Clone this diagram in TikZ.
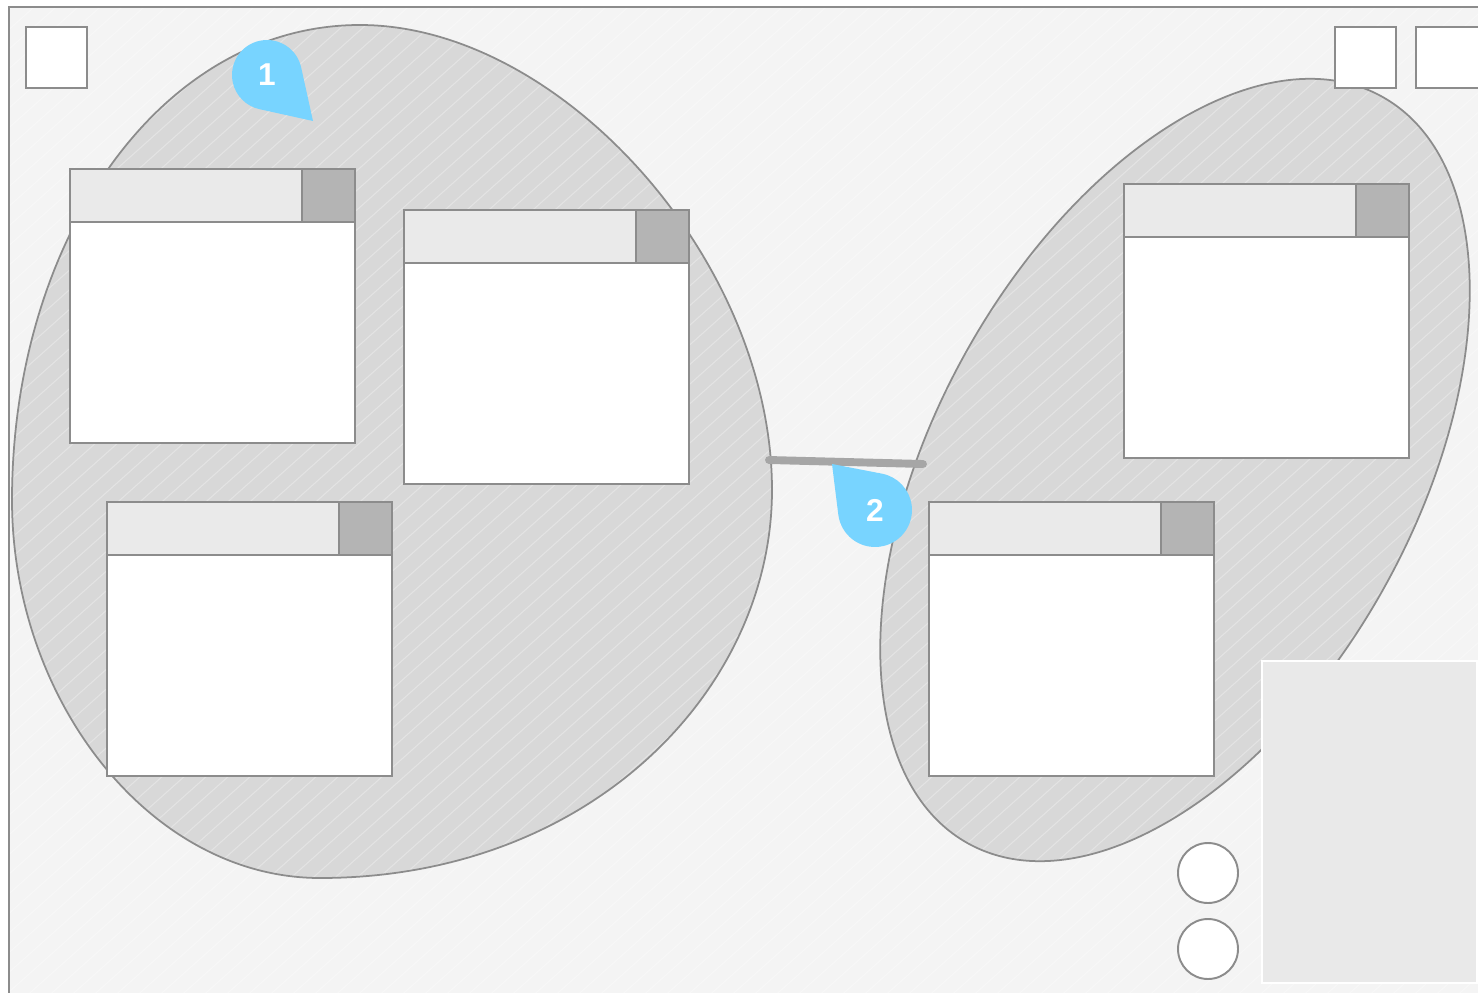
\documentclass[tikz,border=0pt]{standalone}
\usepackage{fontspec}
\setsansfont{Liberation Sans}
\usepackage{tikz}
\usetikzlibrary{arrows.meta}

\definecolor{paper}{HTML}{F4F4F4}
\definecolor{edge}{HTML}{8C8C8C}
\definecolor{blobgray}{HTML}{D8D8D8}
\definecolor{winhead}{HTML}{EAEAEA}
\definecolor{winbtn}{HTML}{B4B4B4}
\definecolor{linkgray}{HTML}{A6A6A6}
\definecolor{pinblue}{HTML}{78D4FF}
\definecolor{panelgray}{HTML}{E9E9E9}

\tikzset{
  frameline/.style={draw=edge, line width=1.1pt},
  blobshape/.style={draw=edge, line width=1pt},
  hatchline/.style={white, line width=0.6pt, opacity=0.3},
  pinlabel/.style={text=white, font=\sffamily\bfseries\fontsize{18}{18}\selectfont},
}

\begin{document}
\begin{tikzpicture}[x=0.02cm, y=-0.02cm]
			\useasboundingbox (0,0) rectangle (1478,993);
			\clip (0,0) rectangle (1478,993);
			% desk
			\fill[paper] (9,7) rectangle (1500,1020);
			% two groups
			\def\blobone{(360,25) .. controls (560,25) and (772,260) .. (772,490) .. controls (772,690) and (590,878) .. (320,878) .. controls (150,878) and (12,700) .. (12,500) .. controls (12,240) and (160,25) .. (360,25) -- cycle}
			\fill[blobgray] \blobone;
			\fill[blobgray, rotate around={61:(1175,470)}] (1175,470) ellipse [x radius=8.54cm, y radius=4.8cm];
			% hatching
			\begin{scope}
				\clip (9,7) rectangle (1500,1020);
				\foreach \i in {-1100,-1078,...,1500}
					\draw[hatchline] (\i,1000) -- ++(1120,-1000);
			\end{scope}
			% outlines
			\draw[blobshape] \blobone;
			\draw[blobshape, rotate around={61:(1175,470)}] (1175,470) ellipse [x radius=8.54cm, y radius=4.8cm];
			\draw[frameline] (9,1020) -- (9,7) -- (1500,7);
			% windows
			\foreach \x/\y in {70/169, 404/210, 107/502, 1124/184, 929/502} {
				\filldraw[fill=white, frameline] (\x,\y) rectangle ++(285,274);
				\filldraw[fill=winhead, frameline] (\x,\y) rectangle ++(232,53);
				\filldraw[fill=winbtn, frameline] (\x+232,\y) rectangle ++(53,53);
			}
			% corner buttons
			\filldraw[fill=white, frameline] (26,27) rectangle (87,88);
			\filldraw[fill=white, frameline] (1335,27) rectangle (1396,88);
			\filldraw[fill=white, frameline] (1416,27) rectangle (1490,88);
			% side panel
			\filldraw[fill=panelgray, draw=white, line width=1pt] (1262,661) rectangle (1477,983);
			\filldraw[fill=white, frameline] (1208,873) circle (0.6cm);
			\filldraw[fill=white, frameline] (1208,949) circle (0.6cm);
			% link between groups
			\coordinate (la) at (769,460);
			\coordinate (lb) at (923,464);
			\draw[linkgray, line width=4.5pt, line cap=round] (la) -- (lb);
			% pins
			\fill[pinblue] (267,75) ++(11.6:0.7cm) arc[start angle=11.6, end angle=258.4, radius=0.7cm] -- (313,121) -- cycle;
			\node[pinlabel] (p1) at (267,75) {1};
			\fill[pinblue] (875,510) ++(187.1:0.74cm) arc[start angle=187.1, end angle=439.1, radius=0.74cm] -- (832,464) -- cycle;
			\node[pinlabel] (p2) at (875,510) {2};
		\end{tikzpicture}
\end{document}
